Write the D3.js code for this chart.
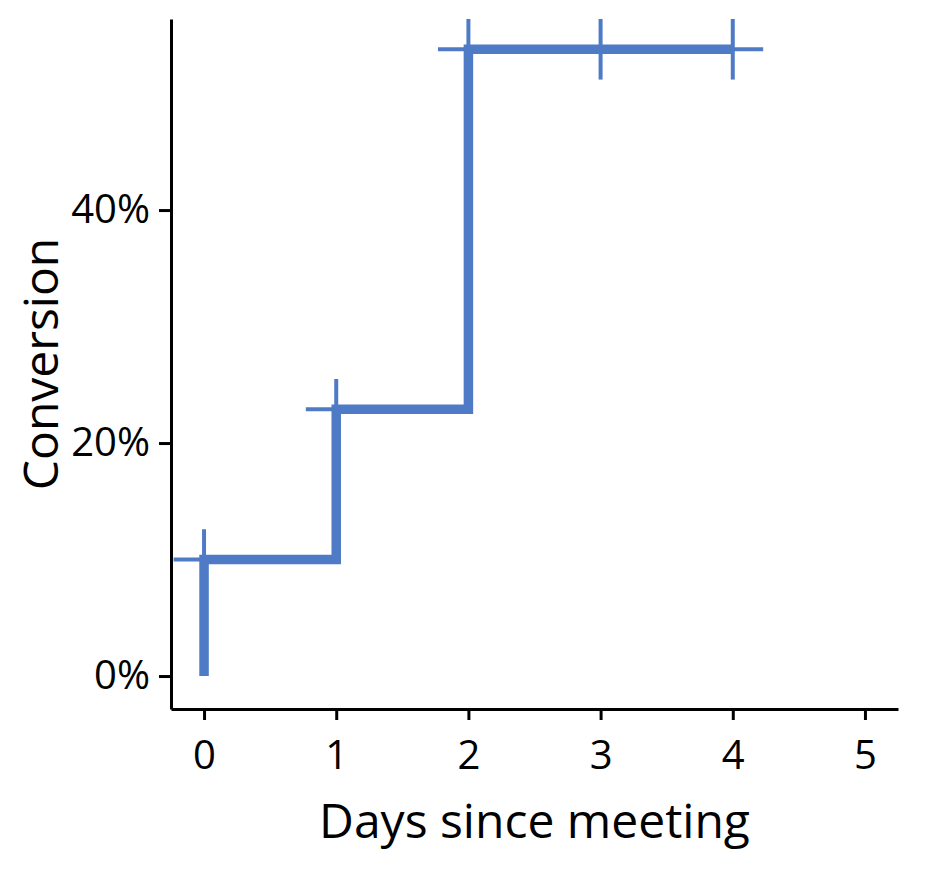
<!DOCTYPE html>
<html>
  <head>
    <title>Conversion</title>
    <script src="https://d3js.org/d3.v7.min.js"></script>
    <style>
      body { margin: 0; background: white; }
      text { font-family: "Open Sans"; fill: black; }
      .axis path, .axis line {
        fill: none;
        stroke: black;
        stroke-width: 3;
      }
      .axis .tick text { font-size: 40px; }
      .label { font-size: 48px; }
    </style>
  </head>
  <body>
    <svg id="main" width="926" height="872"></svg>
    <script>
      // data
      var days = [0, 1, 2, 3, 4];
      var conversion = [0.100, 0.229, 0.538, 0.538, 0.538];
      var dayErr = [0.23, 0.23, 0.23, 0.23, 0.23];
      var convErr = [0.026, 0.026, 0.026, 0.026, 0.026];
      var xTicks = [0, 1, 2, 3, 4, 5];
      var yTicks = [0, 0.2, 0.4];

      var COLOR = '#4e7ac6';

      var PLOT_LEFT = 171, PLOT_RIGHT = 898, PLOT_TOP = 19, PLOT_BOTTOM = 709;

      var x = d3.scaleLinear().domain([-0.25, 5.25]).range([PLOT_LEFT, PLOT_RIGHT]);
      var y = d3.scaleLinear().domain([-0.0283, 0.564]).range([PLOT_BOTTOM, PLOT_TOP]);

      var svg = d3.select('#main');

      // error bars
      var eb = svg.append('g');
      days.forEach(function(d, i) {
        eb.append('line')
          .attr('x1', x(d - dayErr[i])).attr('x2', x(d + dayErr[i]))
          .attr('y1', y(conversion[i])).attr('y2', y(conversion[i]))
          .attr('stroke', COLOR).attr('stroke-width', 4);
        eb.append('line')
          .attr('x1', x(d)).attr('x2', x(d))
          .attr('y1', y(conversion[i] - convErr[i])).attr('y2', y(conversion[i] + convErr[i]))
          .attr('stroke', COLOR).attr('stroke-width', 4);
      });

      // step line, starting from zero at day 0
      var pts = [[days[0], 0]].concat(days.map(function(d, i) { return [d, conversion[i]]; }));
      var line = d3.line()
        .x(function(p) { return x(p[0]); })
        .y(function(p) { return y(p[1]); })
        .curve(d3.curveStepAfter);

      svg.append('path')
        .attr('d', line(pts))
        .attr('fill', 'none')
        .attr('stroke', COLOR)
        .attr('stroke-width', 9.5)
        .attr('stroke-linejoin', 'miter');

      // axes
      svg.append('g')
        .attr('class', 'axis')
        .attr('transform', 'translate(0,' + PLOT_BOTTOM + ')')
        .call(d3.axisBottom(x).tickValues(xTicks).tickFormat(d3.format('d'))
          .tickSize(11).tickSizeOuter(0).tickPadding(21));

      svg.append('g')
        .attr('class', 'axis')
        .attr('transform', 'translate(' + PLOT_LEFT + ',0)')
        .call(d3.axisLeft(y).tickValues(yTicks).tickFormat(d3.format('.0%'))
          .tickSize(12).tickSizeOuter(0).tickPadding(9));

      svg.selectAll('.axis').attr('font-family', null).attr('font-size', null);

      svg.append('text')
        .attr('class', 'label')
        .attr('x', (PLOT_LEFT + PLOT_RIGHT) / 2)
        .attr('y', 838)
        .attr('text-anchor', 'middle')
        .text('Days since meeting');

      svg.append('text')
        .attr('class', 'label')
        .attr('transform', 'translate(58,' + (PLOT_TOP + PLOT_BOTTOM) / 2 + ') rotate(-90)')
        .attr('text-anchor', 'middle')
        .text('Conversion');
    </script>
  </body>
</html>
